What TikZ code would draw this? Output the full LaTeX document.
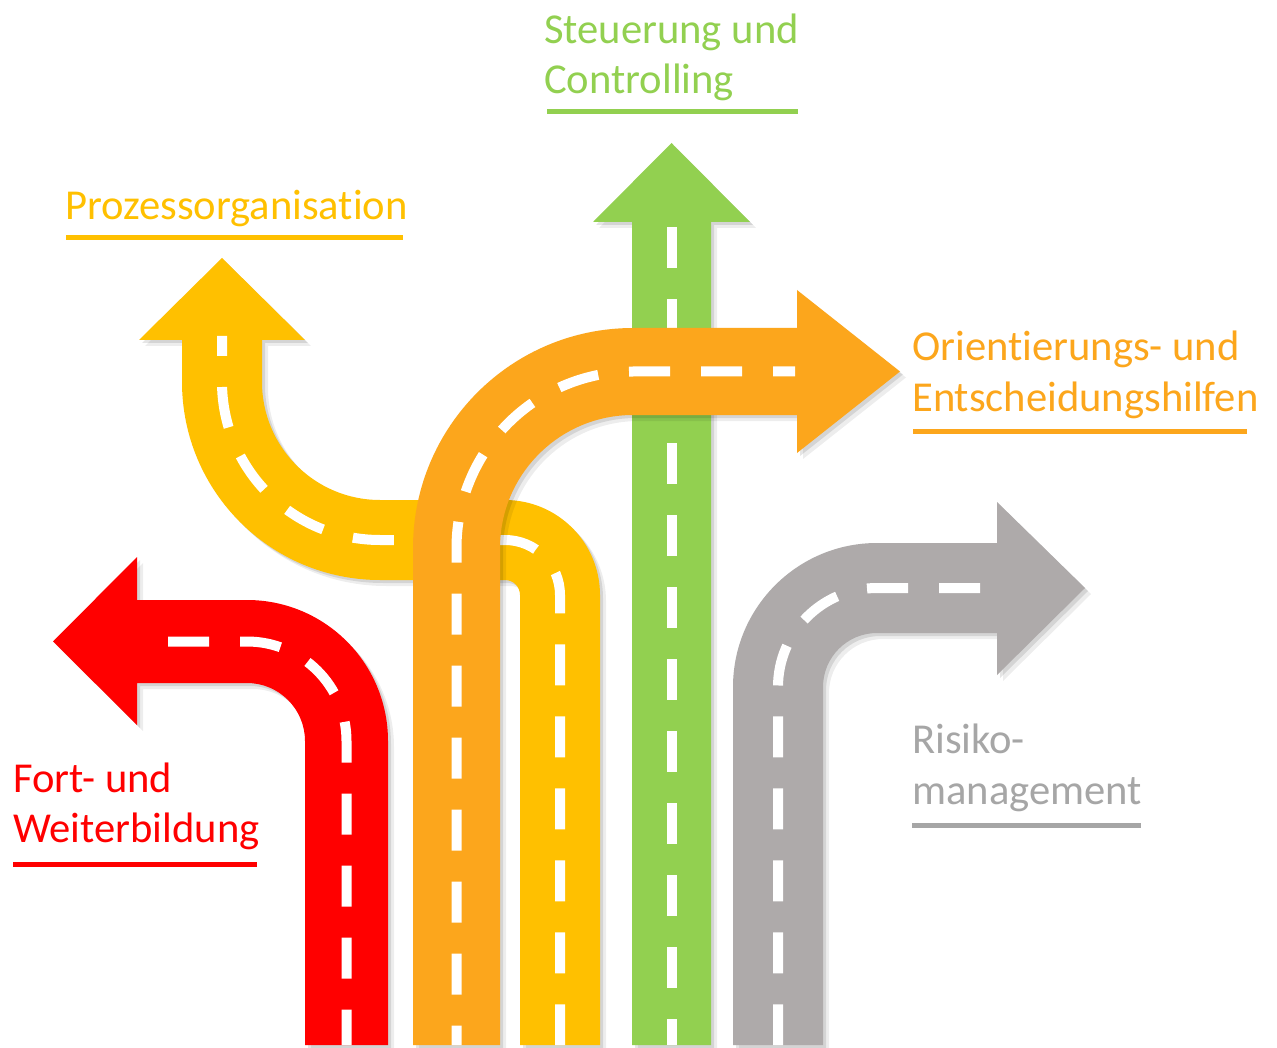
\documentclass[tikz,border=0pt]{standalone}
\usepackage{fontspec}
\setmainfont{Carlito}[Ligatures=NoCommon]
\definecolor{cRed}{HTML}{FF0000}
\definecolor{cOrange}{HTML}{FCA61C}
\definecolor{cYellow}{HTML}{FFC000}
\definecolor{cGreen}{HTML}{92D050}
\definecolor{cGray}{HTML}{AEAAAA}
\definecolor{cGrayText}{HTML}{A6A6A6}
\def\pRed{(305,1045) -- (305,741) arc[start angle=0,end angle=-90,radius=58] -- (137,683) -- (137,725) -- (53,641.5) -- (137,557) -- (137,600) -- (247,600) arc[start angle=-90,end angle=0,radius=141] -- (388,1045) -- cycle}
\def\pGray{(733,1045) -- (733,687) arc[start angle=180,end angle=270,radius=144] -- (997,543) -- (997,502) -- (1085,588) -- (997,675) -- (997,633) -- (877,633) arc[start angle=270,end angle=180,radius=54] -- (823,1045) -- cycle}
\def\pOrange{(413,1045) -- (413,548) arc[start angle=180,end angle=270,radius=220] -- (797,328) -- (797,290) -- (900,371.5) -- (797,453) -- (797,415) -- (633,415) arc[start angle=270,end angle=180,radius=133] -- (500,1045) -- cycle}
\def\pYellow{(600,1045) -- (600,595) arc[start angle=0,end angle=-90,radius=95] -- (380,500) arc[start angle=90,end angle=180,radius=118] -- (262,340) -- (305,340) -- (222,258) -- (139,340) -- (182,340) -- (182,382) arc[start angle=180,end angle=90,radius=198] -- (505,580) arc[start angle=-90,end angle=0,radius=15] -- (520,1045) -- cycle}
\def\pGreen{(632,1045) -- (632,222) -- (593,222) -- (671.5,143) -- (750,222) -- (711,222) -- (711,1045) -- cycle}
\begin{document}
\begin{tikzpicture}[x=1pt,y=-1pt,
  road/.style={line width=10, white, dash pattern=on 41 off 31},
  shadeA/.style={black, opacity=0.07, shift={(6,6)}},
  shadeB/.style={black, opacity=0.10, shift={(3,3)}},
  lbl/.style={anchor=base west, inner sep=0, font=\fontsize{42.6}{51}\selectfont},
  uline/.style={line width=5}]
\useasboundingbox (0,0) rectangle (1277,1048);
\fill[white] (0,0) rectangle (1277,1048);
% yellow
\fill[shadeA] \pYellow; \fill[shadeB] \pYellow;
\fill[cYellow] \pYellow;
\draw[road, dash phase=21] (222,336) -- (222,382) arc[start angle=180,end angle=90,radius=158] -- (505,540) arc[start angle=-90,end angle=0,radius=55] -- (560,1045);
% green
\fill[shadeA] \pGreen; \fill[shadeB] \pGreen;
\fill[cGreen] \pGreen;
\draw[road] (671.5,227) -- (671.5,1045);
% orange
\fill[shadeA] \pOrange; \fill[shadeB] \pOrange;
\fill[cOrange] \pOrange;
\draw[road, dash phase=19] (795,371.5) -- (633,371.5) arc[start angle=270,end angle=180,radius=176.5] -- (456.5,1045);
% red
\fill[shadeA] \pRed; \fill[shadeB] \pRed;
\fill[cRed] \pRed;
\draw[road] (168,641.5) -- (247,641.5) arc[start angle=-90,end angle=0,radius=99.5] -- (346.5,1045);
% gray
\fill[shadeA] \pGray; \fill[shadeB] \pGray;
\fill[cGray] \pGray;
\draw[road] (980,588) -- (877,588) arc[start angle=270,end angle=180,radius=99] -- (778,1045);
% labels
\node[lbl, text=cGreen] (steu1) at (544,44) {Steuerung und};
\node[lbl, text=cGreen] (steu2) at (544,94) {Controlling};
\draw[uline, cGreen] (547,112) -- (798,112);
\node[lbl, text=cYellow] (proz) at (65,220) {Prozessorganisation};
\draw[uline, cYellow] (66,238) -- (403,238);
\node[lbl, text=cOrange] (ori1) at (912,361) {Orientierungs- und};
\node[lbl, text=cOrange] (ori2) at (912,412) {Entscheidungshilfen};
\draw[uline, cOrange] (913,431) -- (1247,431);
\node[lbl, text=cRed] (fort1) at (13,792) {Fort- und};
\node[lbl, text=cRed] (fort2) at (13,842) {Weiterbildung};
\draw[uline, cRed] (13,864) -- (257,864);
\node[lbl, text=cGrayText] (ris1) at (912,753) {Risiko-};
\node[lbl, text=cGrayText] (ris2) at (912,804) {management};
\draw[uline, cGrayText] (912,825) -- (1141,825);
\end{tikzpicture}
\end{document}
